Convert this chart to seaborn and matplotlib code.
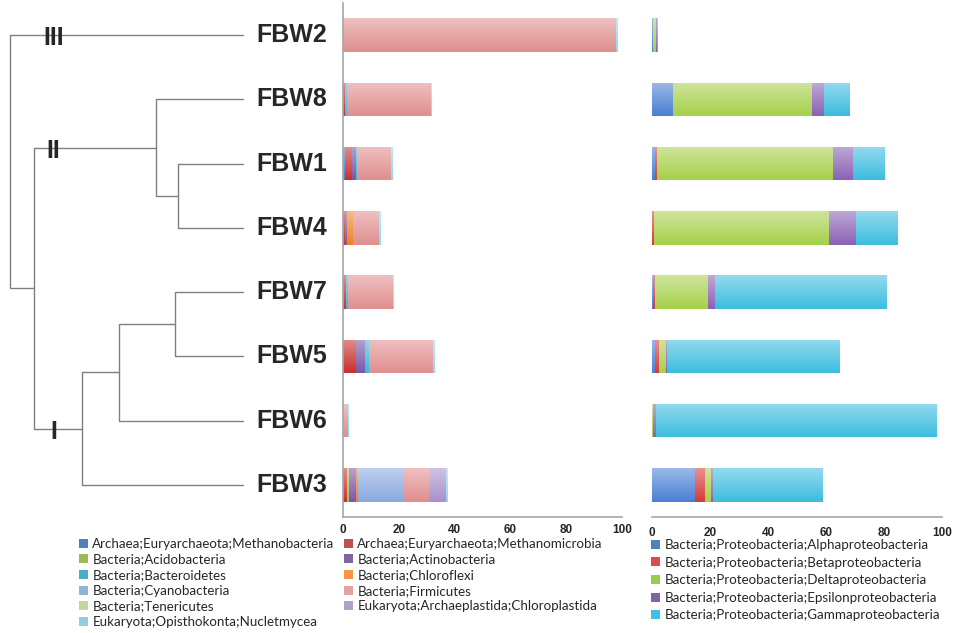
import numpy as np
import pandas as pd
import seaborn as sns
import matplotlib.pyplot as plt
from matplotlib.patches import Patch
from matplotlib.colors import to_rgb

# samples in dendrogram order (top to bottom)
samples = ['FBW2', 'FBW8', 'FBW1', 'FBW4', 'FBW7', 'FBW5', 'FBW6', 'FBW3']

# left panel: non-proteobacterial groups (% of reads)
methanobacteria = [0.0, 0.0, 0.5, 0.0, 0.0, 0.0, 0.0, 0.0]
methanomicrobia = [0.0, 0.5, 2.5, 0.4, 0.9, 4.6, 0.0, 1.4]
acidobacteria = [0.0, 0.0, 0.0, 0.0, 0.0, 0.0, 0.0, 0.4]
actinobacteria = [0.0, 0.0, 1.5, 1.0, 0.0, 3.2, 0.0, 2.7]
bacteroidetes = [0.0, 0.7, 0.5, 0.0, 0.8, 1.2, 0.0, 0.0]
chloroflexi = [0.0, 0.0, 0.0, 2.0, 0.0, 0.0, 0.0, 0.8]
cyanobacteria = [0.0, 0.0, 0.0, 0.0, 0.0, 0.0, 0.0, 15.9]
firmicutes = [97.8, 30.0, 12.2, 9.5, 15.9, 23.0, 1.7, 9.8]
tenericutes = [0.0, 0.0, 0.0, 0.0, 0.0, 0.0, 0.0, 0.0]
chloroplastida = [0.0, 0.0, 0.0, 0.0, 0.0, 0.0, 0.0, 5.7]
nucletmycea = [0.5, 0.5, 0.7, 0.4, 0.6, 0.8, 0.2, 0.6]

left_names = ['Archaea;Euryarchaeota;Methanobacteria', 'Archaea;Euryarchaeota;Methanomicrobia',
              'Bacteria;Acidobacteria', 'Bacteria;Actinobacteria',
              'Bacteria;Bacteroidetes', 'Bacteria;Chloroflexi',
              'Bacteria;Cyanobacteria', 'Bacteria;Firmicutes',
              'Bacteria;Tenericutes', 'Eukaryota;Archaeplastida;Chloroplastida',
              'Eukaryota;Opisthokonta;Nucletmycea']
left_values = [methanobacteria, methanomicrobia, acidobacteria, actinobacteria, bacteroidetes,
               chloroflexi, cyanobacteria, firmicutes, tenericutes, chloroplastida, nucletmycea]
left_bar_colors = ['#4a7ed0', '#c8302c', '#9cc650', '#7a56a8', '#3cb8dc', '#f08020',
                   '#8aa8e0', '#e08e8e', '#c0dc90', '#a890cc', '#90d8ec']
left_key_colors = ['#4f81bd', '#c0504d', '#9bbb59', '#8064a2', '#4bacc6', '#f79646',
                   '#95b3d7', '#e6a09e', '#c3d69b', '#b3a2c7', '#93cddd']

# right panel: Proteobacteria classes (% of reads)
alpha = [0.2, 7.2, 0.8, 0.0, 0.3, 1.0, 0.0, 14.5]
beta = [0.0, 0.0, 0.7, 0.6, 0.7, 1.3, 0.0, 3.7]
delta = [1.0, 47.8, 60.7, 60.1, 18.3, 2.3, 0.3, 2.0]
epsilon = [0.3, 4.0, 6.9, 9.5, 2.3, 0.5, 0.9, 0.6]
gamma = [0.3, 9.0, 11.1, 14.6, 59.2, 59.5, 96.8, 37.9]

right_names = ['Bacteria;Proteobacteria;Alphaproteobacteria',
               'Bacteria;Proteobacteria;Betaproteobacteria',
               'Bacteria;Proteobacteria;Deltaproteobacteria',
               'Bacteria;Proteobacteria;Epsilonproteobacteria',
               'Bacteria;Proteobacteria;Gammaproteobacteria']
right_values = [alpha, beta, delta, epsilon, gamma]
right_bar_colors = ['#4a80d4', '#d83838', '#a6d04a', '#8a62b4', '#3cbcdf']
right_key_colors = ['#4f81bd', '#e04a4a', '#9bcc50', '#8064a2', '#3fc0e0']

# dendrogram: (child a, child b, height); leaves are 0-7, merges numbered from 8
linkage = [(2, 3, 0.279), (4, 5, 0.292), (1, 8, 0.373), (9, 6, 0.532),
           (11, 7, 0.691), (10, 12, 0.897), (0, 13, 1.0)]
clades = [('III', 0), ('II', 10), ('I', 12)]

ticks = [0, 20, 40, 60, 80, 100]

sns.set_style('white')
plt.rcParams['font.family'] = ['Liberation Sans', 'DejaVu Sans']

W, H = 957, 633
fig = plt.figure(figsize=(W / 100, H / 100), dpi=100)
bottom, height = (H - 517) / H, 514 / H
ax_tree = fig.add_axes([0, bottom, 343 / W, height])
ax_l = fig.add_axes([343 / W, bottom, 279 / W, height])
ax_r = fig.add_axes([652 / W, bottom, 290 / W, height])


def stacked(ax, names, values, colors):
    df = pd.DataFrame(dict(zip(names, values)), index=samples)
    cum = df.cumsum(axis=1)
    for name, col in reversed(list(zip(names, colors))):
        sns.barplot(x=cum[name].values, y=samples, color=col, orient='h',
                    width=0.52, saturation=1, ax=ax)
    # excel-like vertical gradient on every bar
    grad = np.linspace(0, 1, 40)[:, None, None]
    for i, bar in enumerate(list(ax.patches)):
        w = bar.get_width()
        if w <= 0:
            continue
        base = np.array(to_rgb(bar.get_facecolor()))
        img = (base + (1 - base) * 0.45) * (1 - grad) + base * grad
        im = ax.imshow(img, extent=(bar.get_x(), bar.get_x() + w, bar.get_y() + bar.get_height(), bar.get_y()),
                       origin='upper', aspect='auto', interpolation='bilinear', zorder=2 + i * 1e-3)
        im.set_clip_path(bar)
        bar.set_facecolor('none')
        bar.set_edgecolor('none')
    ax.set_xlim(0, 100)
    ax.set_ylim(7.5, -0.5)
    ax.set_yticks([])
    ax.set_ylabel('')
    ax.set_xticks(ticks)
    ax.set_xticklabels([str(t) for t in ticks], fontweight='bold', fontsize=8.5)
    ax.tick_params(axis='x', length=4, width=1, color='#a6a6a6', pad=1)
    for s in ['top', 'right']:
        ax.spines[s].set_visible(False)
    ax.spines['bottom'].set_color('#a6a6a6')
    ax.spines['bottom'].set_linewidth(1.2)


stacked(ax_l, left_names, left_values, left_bar_colors)
ax_l.spines['left'].set_color('#a6a6a6')
ax_l.spines['left'].set_linewidth(1.2)

stacked(ax_r, right_names, right_values, right_bar_colors)
ax_r.spines['left'].set_visible(False)
ax_r.tick_params(axis='x', pad=3)

# dendrogram
pos = {i: (0.0, float(i)) for i in range(len(samples))}
for k, (a, b, h) in enumerate(linkage):
    (xa, ya), (xb, yb) = pos[a], pos[b]
    ax_tree.plot([xa, h, h, xb], [ya, ya, yb, yb], color='#808080', lw=1)
    pos[len(samples) + k] = (h, (ya + yb) / 2)
for i, s in enumerate(samples):
    ax_tree.text(-0.056, i, s, ha='left', va='center', fontsize=18, fontweight='bold')
for lab, node in clades:
    ax_tree.text(0.813, pos[node][1] + 0.05, lab, ha='center', va='center',
                 fontsize=18, fontweight='bold')
ax_tree.set_xlim(1.043, -0.43)
ax_tree.set_ylim(7.5, -0.5)
ax_tree.axis('off')

# legends
def keys(names, colors):
    return [Patch(facecolor=c, edgecolor='none', label=n) for n, c in zip(names, colors)]

lkeys = keys(left_names, left_key_colors)
leg_kw = dict(loc='upper left', frameon=False, handlelength=0.65, handleheight=0.65,
              handletextpad=0.35, borderpad=0, borderaxespad=0,
              prop={'family': 'Lato', 'size': 9.6})
fig.legend(handles=lkeys[0::2], bbox_to_anchor=(79 / W, 1 - 538 / H), labelspacing=0.27, **leg_kw)
fig.legend(handles=lkeys[1::2], bbox_to_anchor=(344 / W, 1 - 538 / H), labelspacing=0.27, **leg_kw)
fig.legend(handles=keys(right_names, right_key_colors), bbox_to_anchor=(651 / W, 1 - 539 / H),
           labelspacing=0.42, **leg_kw)

fig.savefig('out.png', dpi=100)
